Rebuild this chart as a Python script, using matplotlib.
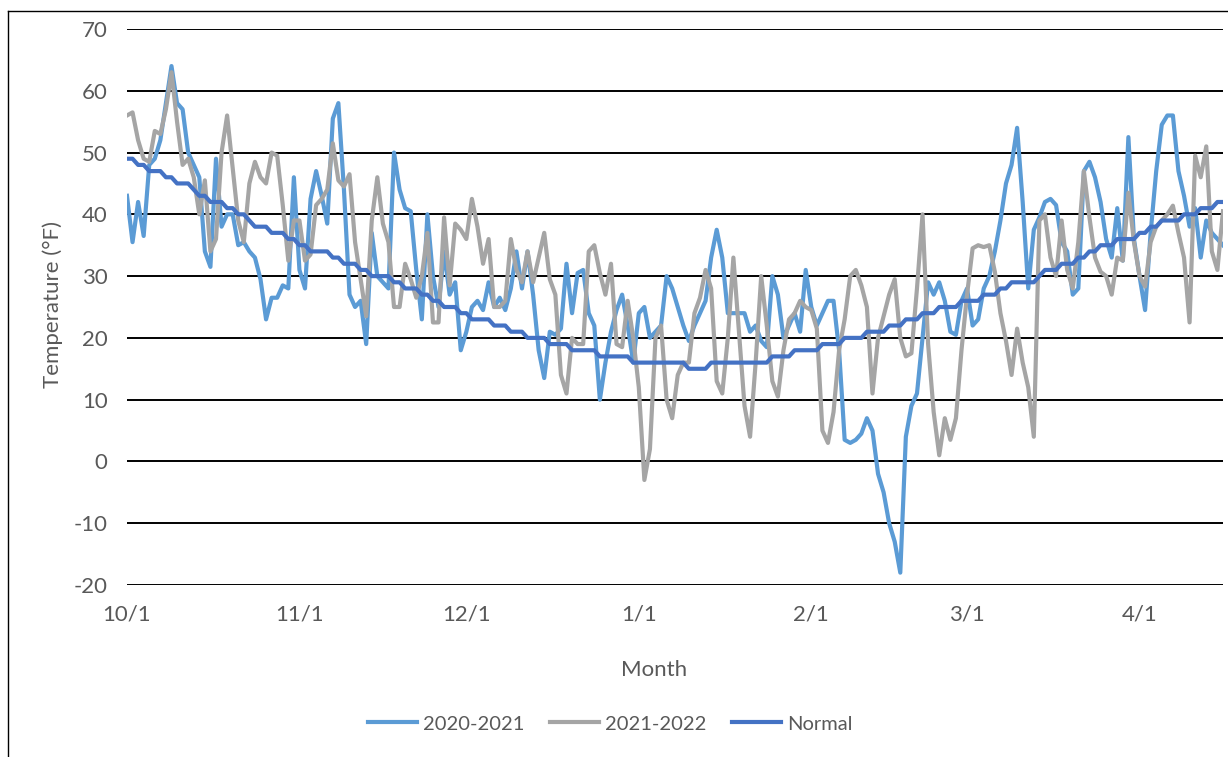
"""Daily temperatures, Oct 1 - mid April: two winters against the normal."""

import matplotlib
matplotlib.use("Agg")
import matplotlib.pyplot as plt
from matplotlib.lines import Line2D
import numpy as np

plt.rcParams["font.family"] = ["Lato", "DejaVu Sans"]
plt.rcParams["axes.unicode_minus"] = False

# Daily values starting 10/1, one line per month (Oct..Mar, then Apr 1-16)
temps_2020_21 = [
    43, 35.5, 42, 36.5, 48, 49, 52, 58, 64, 58, 57, 50, 48, 46, 34, 31.5, 49, 38, 40, 40, 35, 35.5, 34, 33, 29.5, 23, 26.5, 26.5, 28.5, 28, 46,
    31, 28, 42.5, 47, 43, 38.5, 55.5, 58, 44, 27, 25, 26, 19, 37, 30, 29, 28, 50, 44, 41, 40.5, 31, 23, 40, 30, 25, 34, 27, 29, 18,
    21, 25, 26, 24.5, 29, 25, 26.5, 24.5, 28, 34, 28, 34, 27, 18, 13.5, 21, 20.5, 21.5, 32, 24, 30.5, 31, 24, 22, 10, 16, 21, 24.5, 27, 22, 16,
    24, 25, 20, 21, 22, 30, 28, 25, 22, 19.5, 22, 24, 26, 33, 37.5, 33, 24, 24, 24, 24, 21, 22, 19.5, 18.5, 30, 27, 20, 22, 24, 21, 31,
    25, 22, 24, 26, 26, 18, 3.5, 3, 3.5, 4.5, 7, 5, -2, -5, -10, -13, -18, 4, 9, 11, 20, 29, 27, 29, 26, 21, 20.5, 26,
    28, 22, 23, 28, 30, 34, 39, 45, 48, 54, 42, 28, 37.5, 39.5, 42, 42.5, 41.5, 35.5, 34, 27, 28, 47, 48.5, 46, 42, 36, 33, 41, 32.5, 52.5, 36,
    30, 24.5, 37, 47, 54.5, 56, 56, 47, 43, 38, 41, 33, 39, 37, 36, 35,
]

temps_2021_22 = [
    56, 56.5, 52, 49, 48.5, 53.5, 53, 57, 63, 55, 48, 49, 46, 40, 45.5, 34, 36, 50, 56, 47.5, 39, 35.5, 45, 48.5, 46, 45, 50, 49.5, 41.5, 32.5, 39,
    39, 32.5, 33.5, 41.5, 42.5, 44, 51.5, 45.5, 44.5, 46.5, 35.5, 29.5, 23.5, 39, 46, 38.5, 35.5, 25, 25, 32, 29.5, 26.5, 30, 37, 22.5, 22.5, 39.5, 28.5, 38.5, 37.5,
    36, 42.5, 38, 32, 36, 25, 25, 26, 36, 31, 29, 34, 29, 33, 37, 29.5, 27, 14, 11, 20, 19, 19, 34, 35, 30.5, 27, 32, 19, 18.5, 26, 20,
    12, -3, 2, 20, 22, 10, 7, 14, 16, 16, 24, 26.5, 31, 28, 13, 11, 20, 33, 21, 9, 4, 16, 30, 22, 13, 10.5, 18, 23, 24, 26, 25,
    24.5, 21.5, 5, 3, 8, 18, 23, 30, 31, 28.5, 25, 11, 20, 23.5, 27, 29.5, 20, 17, 17.5, 28, 40, 19, 8, 1, 7, 3.5, 7, 18,
    27, 34.5, 35, 34.7, 35, 30.7, 24, 19.5, 14, 21.5, 16, 12, 4, 39, 40, 33, 30, 39, 31, 28, 35.5, 47, 39.5, 33, 30.7, 30, 27, 33, 32.5, 43.5, 35.5,
    30, 28.3, 35.5, 38, 39, 40, 41.4, 37, 33, 22.5, 49.5, 46, 51, 34, 31, 40.5,
]

normal = [
    49, 49, 48, 48, 47, 47, 47, 46, 46, 45, 45, 45, 44, 43, 43, 42, 42, 42, 41, 41, 40, 40, 39, 38, 38, 38, 37, 37, 37, 36, 36,
    35, 35, 34, 34, 34, 34, 33, 33, 32, 32, 32, 31, 31, 30, 30, 30, 30, 29, 29, 28, 28, 28, 27, 27, 26, 26, 25, 25, 25, 24,
    24, 23, 23, 23, 23, 22, 22, 22, 21, 21, 21, 20, 20, 20, 20, 19, 19, 19, 19, 18, 18, 18, 18, 18, 17, 17, 17, 17, 17, 17, 16,
    16, 16, 16, 16, 16, 16, 16, 16, 16, 15, 15, 15, 15, 16, 16, 16, 16, 16, 16, 16, 16, 16, 16, 16, 17, 17, 17, 17, 18, 18, 18,
    18, 18, 19, 19, 19, 19, 20, 20, 20, 20, 21, 21, 21, 21, 22, 22, 22, 23, 23, 23, 24, 24, 24, 25, 25, 25, 25, 26,
    26, 26, 26, 27, 27, 27, 28, 28, 29, 29, 29, 29, 29, 30, 31, 31, 31, 32, 32, 32, 33, 33, 34, 34, 35, 35, 35, 36, 36, 36, 36,
    37, 37, 38, 38, 39, 39, 39, 39, 40, 40, 40, 41, 41, 41, 42, 42,
]

month_labels = ["10/1", "11/1", "12/1", "1/1", "2/1", "3/1", "4/1"]
month_days = [31, 30, 31, 31, 28, 31]  # Oct..Mar

TEXT = "#595959"
FS = 16

days = np.arange(len(normal))
month_starts = np.concatenate([[0], np.cumsum(month_days)])

fig = plt.figure(figsize=(12.28, 7.57), dpi=100)
ax = fig.add_axes([0.1034, 0.2272, 0.8925, 0.7345])

ax.plot(days, temps_2020_21, color="#5B9BD5", lw=3.0, label="2020-2021", solid_joinstyle="round")
ax.plot(days, temps_2021_22, color="#A5A5A5", lw=3.0, label="2021-2022", solid_joinstyle="round")
ax.plot(days, normal, color="#4472C4", lw=3.0, label="Normal", solid_joinstyle="round")

ax.set_ylim(-20, 70)
ax.set_yticks(range(-20, 71, 10))
ax.set_xlim(0, len(normal) - 1)
ax.set_xticks(month_starts)
ax.set_xticklabels(month_labels)

ax.grid(axis="y", color="black", lw=1.4)
ax.set_axisbelow(True)
for s in ax.spines.values():
    s.set_visible(False)
ax.tick_params(axis="both", length=0, labelsize=FS, labelcolor=TEXT)
ax.tick_params(axis="x", pad=14)
ax.tick_params(axis="y", pad=14)

fig.text(0.5325, 0.115, "Month", ha="center", va="center", fontsize=FS, color=TEXT)
fig.text(0.043, 0.598, "Temperature (°F)", ha="center", va="center", rotation=90,
         fontsize=FS, color=TEXT)

fig.legend(loc="center", bbox_to_anchor=(0.497, 0.0436), ncol=3, frameon=False,
           fontsize=14.5, labelcolor=TEXT, handlelength=2.4, handletextpad=0.3,
           columnspacing=1.3)

# chart-area border (left and top edges are visible in the reference)
fig.add_artist(Line2D([0.0065, 0.0065], [0, 0.986], color="black", lw=1.0))
fig.add_artist(Line2D([0.0065, 1], [0.986, 0.986], color="black", lw=1.0))

fig.savefig("out.png", dpi=100)
